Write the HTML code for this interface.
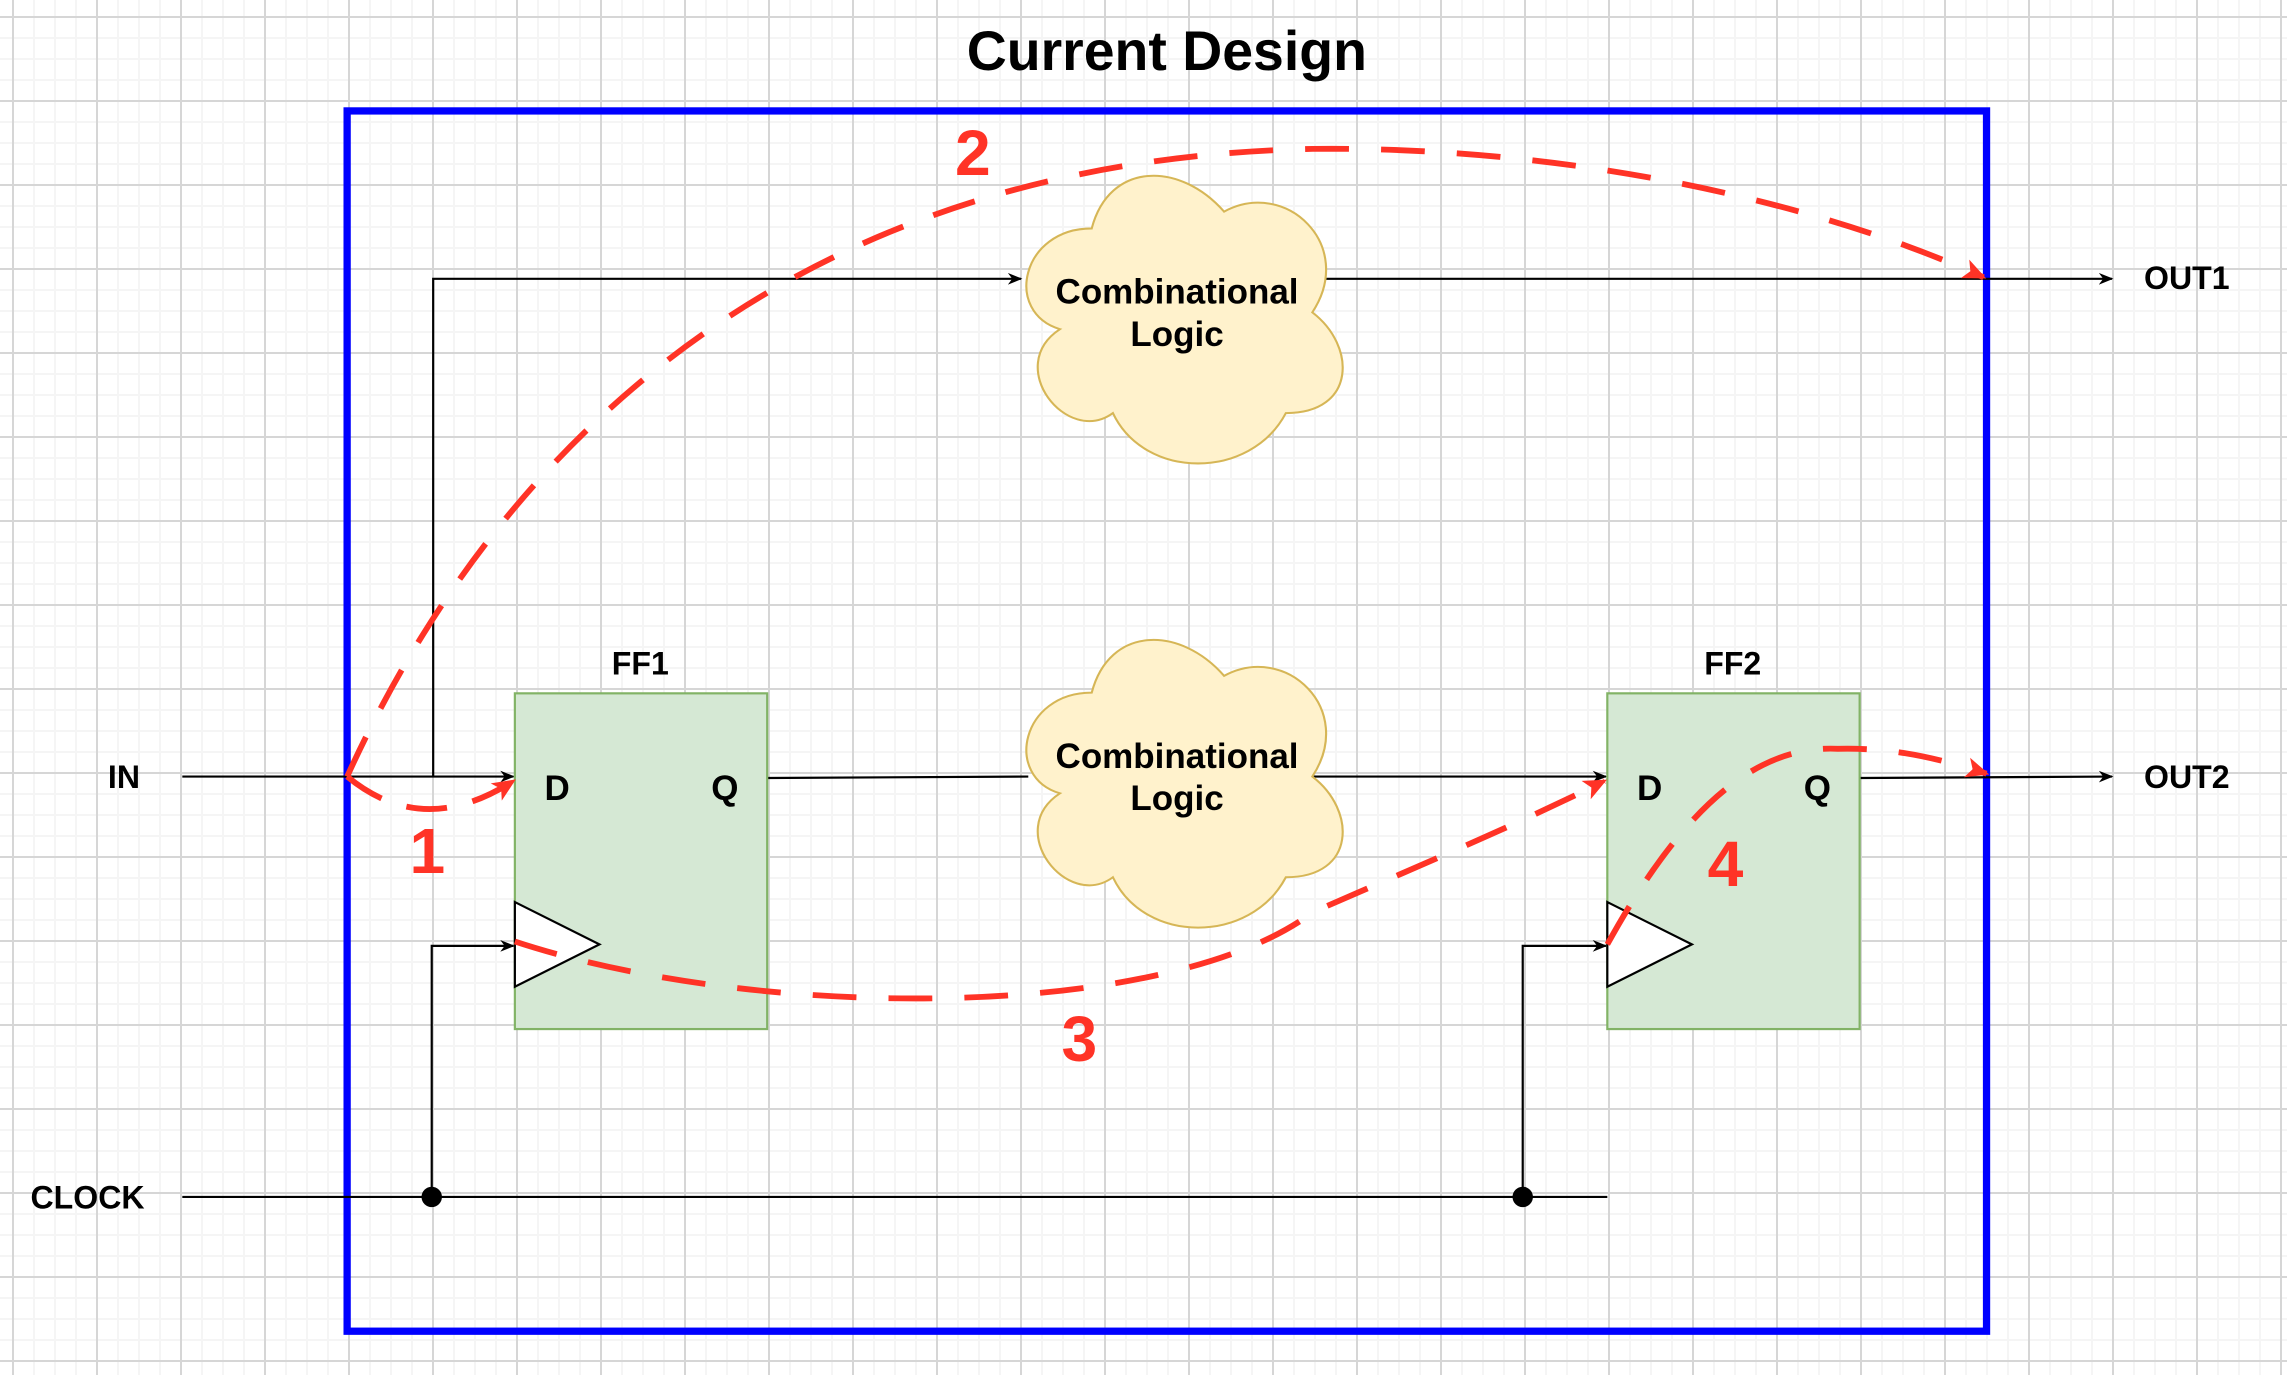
<!DOCTYPE html>
<html><head><meta charset="utf-8"><style>
html,body{margin:0;padding:0}
body{width:2287px;height:1375px;overflow:hidden;background-color:#fff;
background-image:
linear-gradient(to right,#d6d6d6 0 2px,transparent 2px),
linear-gradient(to bottom,#d6d6d6 0 2px,transparent 2px),
linear-gradient(to right,#f5f5f5 0 2px,transparent 2px),
linear-gradient(to bottom,#f5f5f5 0 2px,transparent 2px);
background-size:84px 84px,84px 84px,21px 21px,21px 21px;
background-position:12px 0,0 16px,12px 0,0 16px;}
svg{position:absolute;left:0;top:0}
text{font-family:"Liberation Sans",Arial,sans-serif;font-weight:bold}
</style></head><body>
<svg width="2287" height="1375" viewBox="0 0 1568 942" preserveAspectRatio="none">
<defs>
<marker id="a" markerWidth="10" markerHeight="10" refX="9" refY="5" orient="auto" markerUnits="userSpaceOnUse"><path d="M0,1 L10,5 L0,9 L3,5 Z" fill="#000"/></marker>
<marker id="r" markerWidth="16" markerHeight="16" refX="14" refY="8" orient="auto" markerUnits="userSpaceOnUse"><path d="M0,1 L16,8 L0,15 L4,8 Z" fill="#ff3326"/></marker>
<path id="cl" d="M0.25,0.25 C0.05,0.25 0,0.5 0.16,0.55 C0,0.66 0.18,0.9 0.31,0.8 C0.4,1 0.7,1 0.8,0.8 C1,0.8 1,0.6 0.875,0.5 C1,0.3 0.8,0.1 0.625,0.2 C0.5,0.05 0.3,0.05 0.25,0.25 Z"/>
</defs>
<text x="800" y="48" font-size="38" text-anchor="middle">Current Design</text>
<rect x="238" y="76" width="1124" height="836" fill="none" stroke="#0000ff" stroke-width="5"/>
<g stroke="#000" stroke-width="1.5" fill="none">
<path d="M125,532 L352,532" marker-end="url(#a)"/>
<path d="M297,532 L297,191 L700,191" marker-end="url(#a)"/>
<path d="M908,191 L1448,191" marker-end="url(#a)"/>
<path d="M526,533 L705,532"/>
<path d="M900,532 L1101,532" marker-end="url(#a)"/>
<path d="M1275,533 L1448,532" marker-end="url(#a)"/>
<path d="M125,820 L1102,820"/>
<path d="M296,820 L296,648 L352,648" marker-end="url(#a)"/>
<path d="M1044,820 L1044,648 L1101,648" marker-end="url(#a)"/>
</g>
<circle cx="296" cy="820" r="7"/><circle cx="1044" cy="820" r="7"/>
<g fill="#fff2cc" stroke="#d6b656">
<use href="#cl" transform="translate(688,99) scale(242,230)" stroke-width="0.006"/>
<use href="#cl" transform="translate(688,417) scale(242,230)" stroke-width="0.006"/>
</g>
<g font-size="24" text-anchor="middle">
<text x="807" y="208">Combinational</text><text x="807" y="237">Logic</text>
<text x="807" y="526">Combinational</text><text x="807" y="555">Logic</text>
</g>
<rect x="353" y="475" width="173" height="230" fill="#d5e8d4" stroke="#82b366" stroke-width="1.5"/>
<rect x="1102" y="475" width="173" height="230" fill="#d5e8d4" stroke="#82b366" stroke-width="1.5"/>
<path d="M353,618 L411,647 L353,676 Z" fill="#fff" stroke="#000" stroke-width="1.5"/>
<path d="M1102,618 L1160,647 L1102,676 Z" fill="#fff" stroke="#000" stroke-width="1.5"/>
<g font-size="22">
<text x="439" y="462" text-anchor="middle">FF1</text><text x="1188" y="462" text-anchor="middle">FF2</text>
<text x="382" y="548" text-anchor="middle" font-size="24">D</text><text x="497" y="548" text-anchor="middle" font-size="24">Q</text>
<text x="1131" y="548" text-anchor="middle" font-size="24">D</text><text x="1246" y="548" text-anchor="middle" font-size="24">Q</text>
<text x="85" y="540" text-anchor="middle">IN</text>
<text x="60" y="828" text-anchor="middle">CLOCK</text>
<text x="1470" y="198">OUT1</text><text x="1470" y="540">OUT2</text>
</g>
<g fill="none" stroke="#ff3326" stroke-width="4" stroke-dasharray="30,22">
<path d="M238,532 Q290,575 352,535" stroke-dasharray="28,18" marker-end="url(#r)"/>
<path d="M238,532 C330,330 520,110 900,102 C1080,100 1250,140 1360,190" marker-end="url(#r)"/>
<path d="M353,645 C520,700 800,700 900,625 C980,590 1040,565 1100,535" marker-end="url(#r)"/>
<path d="M1102,647 C1150,560 1200,510 1260,513 C1300,512 1330,520 1362,530" marker-end="url(#r)"/>
</g>
<g fill="#ff3326" font-size="44" text-anchor="middle">
<text x="293" y="598">1</text><text x="667" y="120">2</text><text x="740" y="727">3</text><text x="1183" y="607">4</text>
</g>
</svg>
</body></html>
